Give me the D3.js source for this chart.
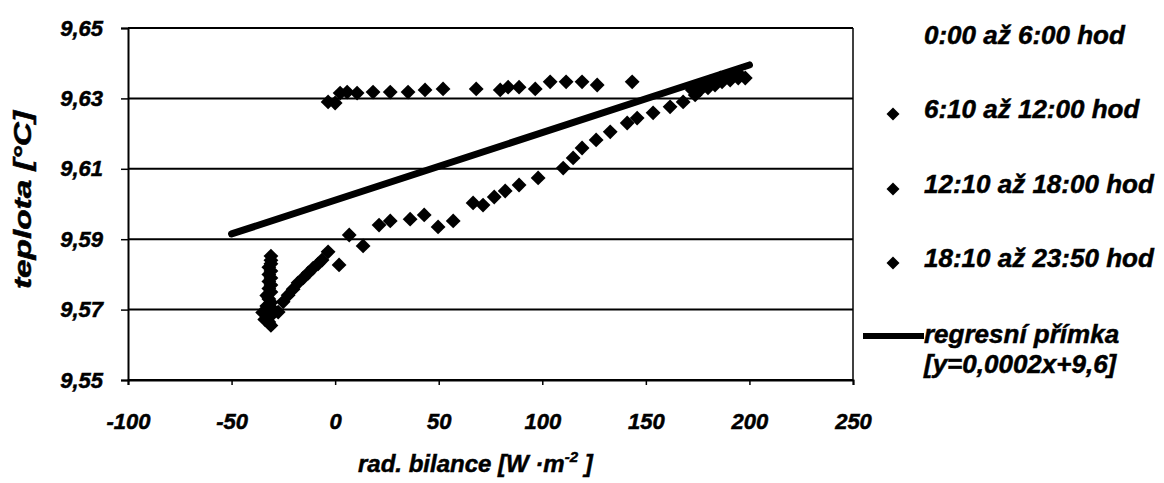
<!DOCTYPE html>
<html>
<head>
<meta charset="utf-8">
<script src="https://d3js.org/d3.v7.min.js"></script>
<style>
	body{
		margin:0;
		background:#fff;
		font-family:"Liberation Sans", Arial, sans-serif;
	}
	text{
		font-weight:bold;
		font-style:italic;
		fill:#000;
		stroke:#000;
		stroke-width:0.5px;
	}
</style>
</head>
<body>
<div class="chart"></div>
<script>

//DATA  [rad. bilance W/m2, teplota °C]

var seriesNames = ["0:00 až 6:00 hod", "6:10 až 12:00 hod", "12:10 až 18:00 hod", "18:10 až 23:50 hod"];

var night = [
	[-31, 9.5655], [-32, 9.5665], [-34, 9.5672], [-31, 9.5683], [-35, 9.5692],
	[-30, 9.5700], [-33, 9.5710], [-31, 9.5720], [-32, 9.5730], [-33, 9.5740], [-31, 9.5750]
];

var morning = [
	[-27.5, 9.5693], [-25.1, 9.5722], [-22.7, 9.5741], [-20.3, 9.5758], [-17.9, 9.5776],
	[-15.4, 9.5790], [-13.0, 9.5804], [-10.6, 9.5818], [-8.2, 9.5830], [-6.3, 9.5841],
	[-3.4, 9.5864], [1.9, 9.5827], [6.8, 9.5912], [13.5, 9.5881], [21.2, 9.5940],
	[26.6, 9.5952], [36.2, 9.5957], [43.0, 9.5969], [49.7, 9.5935], [57.0, 9.5952],
	[66.6, 9.6003], [71.4, 9.5997], [76.8, 9.6020], [82.1, 9.6037], [88.8, 9.6054],
	[98.0, 9.6074], [110.1, 9.6102], [114.9, 9.6131], [119.2, 9.6159], [126.0, 9.6182],
	[132.8, 9.6205], [141.0, 9.6230], [145.8, 9.6244], [153.5, 9.6259], [161.7, 9.6276],
	[168.0, 9.6290], [173.8, 9.6310], [176.2, 9.6324], [178.6, 9.6338], [181.0, 9.6347],
	[183.4, 9.6352], [185.9, 9.6358], [189.2, 9.6361], [192.1, 9.6364], [195.5, 9.6366]
];

var afternoon = [
	[198.0, 9.6358], [194.6, 9.6358], [190.7, 9.6352], [186.8, 9.6347], [183.4, 9.6338],
	[180.0, 9.6330], [176.2, 9.6335], [172.4, 9.6324], [143.4, 9.6347], [126.5, 9.6338],
	[119.2, 9.6347], [111.5, 9.6347], [103.8, 9.6347], [96.6, 9.6327], [88.8, 9.6332],
	[83.5, 9.6332], [79.7, 9.6324], [68.1, 9.6327], [52.1, 9.6327], [43.4, 9.6324],
	[35.2, 9.6318], [26.6, 9.6318], [18.3, 9.6318], [10.6, 9.6315], [5.8, 9.6318],
	[2.4, 9.6315], [0.0, 9.6287], [-3.4, 9.6290]
];

var evening = [
	[-32, 9.5760], [-31, 9.5770], [-32, 9.5780], [-31, 9.5790], [-32, 9.5800],
	[-31, 9.5810], [-32, 9.5820], [-31, 9.5830], [-31, 9.5840], [-31, 9.5852]
];

var regression = [[-50, 9.5915], [200, 9.6395]];

var xTicks = [-100, -50, 0, 50, 100, 150, 200, 250];
var yTicks = [9.55, 9.57, 9.59, 9.61, 9.63, 9.65];

//SETUP

var width = 1164;
var height = 483;
var plot = {left: 128, right: 853, top: 28, bottom: 380};

var svg = d3.select(".chart").append("svg")
	.attr("width", width)
	.attr("height", height);

var x = d3.scaleLinear().domain([-100, 250]).range([plot.left, plot.right]);
var y = d3.scaleLinear().domain([9.55, 9.65]).range([plot.bottom, plot.top]);

var comma = function(v){ return d3.format(".2f")(v).replace(".", ","); };

//GRID AND FRAME

svg.append("g")
	.selectAll("line")
	.data(yTicks)
	.enter()
	.append("line")
	.attr("x1", plot.left)
	.attr("x2", plot.right)
	.attr("y1", function(d){ return y(d); })
	.attr("y2", function(d){ return y(d); })
	.attr("stroke", "#000")
	.attr("stroke-width", 2);

svg.append("line")
	.attr("x1", plot.right).attr("x2", plot.right)
	.attr("y1", plot.top).attr("y2", plot.bottom)
	.attr("stroke", "#000").attr("stroke-width", 1.5);

//AXES

var xAxis = svg.append("g")
	.attr("transform", "translate(0," + plot.bottom + ")")
	.call(d3.axisBottom(x).tickValues(xTicks).tickSize(5).tickPadding(28).tickFormat(function(d){ return String(d); }));

var yAxis = svg.append("g")
	.attr("transform", "translate(" + plot.left + ",0)")
	.call(d3.axisLeft(y).tickValues(yTicks).tickSize(7).tickPadding(18).tickFormat(comma));

[xAxis, yAxis].forEach(function(a){
	a.select(".domain").attr("stroke-width", 2);
	a.selectAll(".tick line").attr("stroke-width", 1.5);
	a.selectAll("text")
		.attr("font-family", "'Liberation Sans', Arial, sans-serif")
		.attr("font-size", 22)
		.attr("font-weight", "bold")
		.attr("font-style", "italic")
		.attr("fill", "#000");
});

//AXIS TITLES

svg.append("text")
	.attr("transform", "translate(31,200) rotate(-90)")
	.attr("text-anchor", "middle")
	.attr("font-size", 23)
	.attr("textLength", 178)
	.attr("lengthAdjust", "spacingAndGlyphs")
	.text("teplota [°C]");

var xTitle = svg.append("text")
	.attr("x", 358)
	.attr("y", 472)
	.attr("font-size", 24);
xTitle.append("tspan").text("rad. bilance [W ·m");
xTitle.append("tspan").attr("dy", -10).attr("font-size", 15).text("-2");
xTitle.append("tspan").attr("dy", 10).text(" ]");

//REGRESSION LINE

svg.append("path")
	.datum(regression)
	.attr("d", d3.line().x(function(d){ return x(d[0]); }).y(function(d){ return y(d[1]); }))
	.attr("stroke", "#000")
	.attr("stroke-width", 7)
	.attr("stroke-linecap", "round")
	.attr("fill", "none");

//POINTS

var diamond = d3.symbol().type(d3.symbolSquare).size(110);

[night, morning, afternoon, evening].forEach(function(series){
	svg.append("g")
		.selectAll("path")
		.data(series)
		.enter()
		.append("path")
		.attr("d", diamond)
		.attr("transform", function(d){ return "translate(" + x(d[0]) + "," + y(d[1]) + ") rotate(45)"; })
		.attr("fill", "#000");
});

//LEGEND

var legend = svg.append("g").attr("font-size", 26);
var legendY = [44, 118, 193, 267];

seriesNames.forEach(function(name, i){
	legend.append("text").attr("x", 924).attr("y", legendY[i]).text(name);
	if (i > 0) {
		legend.append("path")
			.attr("d", d3.symbol().type(d3.symbolSquare).size(85))
			.attr("transform", "translate(893," + (legendY[i] - 4) + ") rotate(45)")
			.attr("fill", "#000");
	}
});

legend.append("line")
	.attr("x1", 863).attr("x2", 924)
	.attr("y1", 336).attr("y2", 336)
	.attr("stroke", "#000").attr("stroke-width", 6);
legend.append("text").attr("x", 924).attr("y", 343).text("regresní přímka");
legend.append("text").attr("x", 924).attr("y", 373).text("[y=0,0002x+9,6]");

</script>
</body>
</html>
